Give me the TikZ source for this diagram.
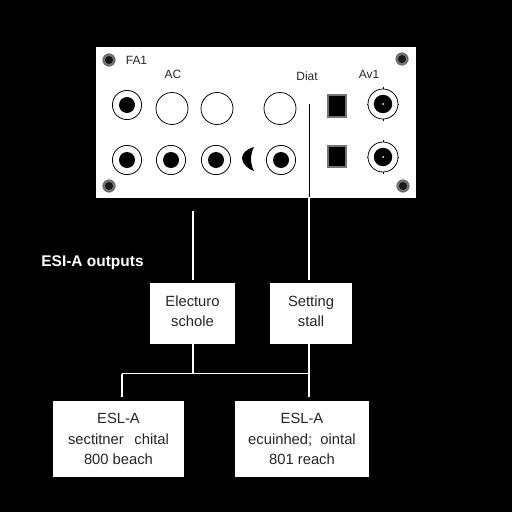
\documentclass[tikz,border=0pt]{standalone}
\usepackage{fontspec}
\setmainfont{Liberation Sans}
\tikzset{
  panel box/.style={
    rectangle, draw=none, fill=white, inner sep=0pt, minimum width=8.0cm, minimum height=3.75cm
  },
  panel label/.style={
    text=black!85, inner sep=0pt, font=\fontsize{8.5}{10}\selectfont
  },
  heading/.style={
    text=white, inner sep=0pt, font=\bfseries\fontsize{11}{13}\selectfont
  },
  jack/.style={
    circle, draw=black, line width=0.55pt, fill=white, inner sep=0pt, minimum size=7.3mm,
    path picture={
      \fill[black] (path picture bounding box.center) circle (2.0mm);
    }
  },
  open jack/.style={
    circle, draw=black, line width=0.55pt, fill=white, inner sep=0pt, minimum size=8.0mm
  },
  screw/.style={
    circle, draw=black!60, line width=0.5pt, fill=black!55, inner sep=0pt, minimum size=3.1mm,
    path picture={
      \fill[black!90] (path picture bounding box.center) circle (1.0mm);
    }
  },
  switch/.style={
    rectangle, draw=black!55, line width=1.4pt, fill=black, inner sep=0pt,
    minimum width=4.4mm, minimum height=5.3mm
  },
  bnc/.style={
    circle, draw=black, line width=0.55pt, fill=white, inner sep=0pt, minimum size=7.5mm,
    path picture={
      \fill[black] (path picture bounding box.center) circle (2.3mm);
      \fill[white] (path picture bounding box.center) circle (0.25mm);
    }
  },
  bnc tick/.style={black, line width=0.6pt},
  info box/.style={
    rectangle, draw=none, fill=white, text=black!85, inner sep=0pt, align=center,
    font=\fontsize{10.5}{14.4}\selectfont
  },
  wire/.style={draw=white, line width=0.9pt},
  panel wire/.style={draw=black, line width=0.6pt}
}

\begin{document}
\begin{tikzpicture}[x=0.025cm, y=-0.025cm]
\fill[black] (0,0) rectangle (512,512);
\useasboundingbox (0,0) rectangle (512,512);

% ------------------------------------------------
% front panel
% ------------------------------------------------
\node[panel box] (panel) at (256,122.5) {};

\node[screw] (screwTL) at (109,60) {};
\node[screw] (screwBL) at (109,186) {};
\node[screw] (screwTR) at (402,59) {};
\node[screw] (screwBR) at (403,186) {};

\node[panel label] (faLabel)   at (136.5,60) {FA1};
\node[panel label] (acLabel)   at (173,74) {AC};
\node[panel label] (dialLabel) at (307,76) {Diat};
\node[panel label] (avLabel)   at (369,74) {Av1};

\node[jack]      (jackA) at (127,105) {};
\node[open jack] (openA) at (172,108.5) {};
\node[open jack] (openB) at (217,108.5) {};
\node[open jack] (openC) at (280,108.5) {};

\node[jack] (jackB) at (127,160) {};
\node[jack] (jackC) at (171,160) {};
\node[jack] (jackD) at (216,160) {};
\node[jack] (jackE) at (281,160) {};

% half moon between the lower jacks
\fill[black] (254,147) .. controls (247,149) and (242,153) .. (242,158)
  .. controls (242,164) and (248,169) .. (254,171)
  .. controls (250,163) and (250,155) .. (254,147) -- cycle;

\node[switch] (switchA) at (337,106) {};
\node[switch] (switchB) at (337,156.5) {};

\node[bnc] (bncA) at (383,104) {};
\node[bnc] (bncB) at (383,157) {};
\draw[bnc tick] (bncA.north) -- ++(0,-2) (bncA.south) -- ++(0,2)
  (bncA.west) -- ++(-1,0) (bncA.east) -- ++(1,0);
\draw[bnc tick] (bncB.north) -- ++(0,-2) (bncB.south) -- ++(0,2)
  (bncB.west) -- ++(-1,0) (bncB.east) -- ++(1,0);

% ------------------------------------------------
% boxes under the panel
% ------------------------------------------------
\node[heading] (outLabel) at (92.5,263) {ESI-A outputs};

\node[info box, minimum width=2.125cm, minimum height=1.525cm] (electuro) at (192.5,313.5) {Electuro\\schole\\[-11.4pt]};
\node[info box, minimum width=2.05cm, minimum height=1.525cm]  (setting)  at (311,313.5) {Setting\\stall\\[-11.4pt]};

\node[info box, minimum width=3.275cm, minimum height=1.9cm] (eslLeft)  at (118.5,439) {ESL-A\\sectitner\ \ \,chital\\800 beach};
\node[info box, minimum width=3.35cm, minimum height=1.9cm]  (eslRight) at (302,439) {ESL-A\\ecuinhed;\ \ ointal\\801 reach};

% ------------------------------------------------
% connectors
% ------------------------------------------------
\coordinate (acOut)    at (193,211);
\coordinate (dialTap)  at (309,104);
\coordinate (panelOut) at (309,197);
\coordinate (busLeft)  at (122,373.5);
\coordinate (busMid)   at (193,373.5);
\coordinate (busRight) at (309,373.5);

\draw[panel wire] (dialTap) -- (panelOut);
\draw[wire, shorten >=2pt] (panelOut) -- (panelOut |- setting.north);
\draw[wire, shorten >=2pt] (acOut) -- (acOut |- electuro.north);

\draw[wire] (busMid |- electuro.south) -- (busMid);
\draw[wire] (busRight |- setting.south) -- (busRight);
\draw[wire] (busLeft) -- (busRight);
\draw[wire, shorten >=2.5pt] (busLeft) -- (busLeft |- eslLeft.north);
\draw[wire, shorten >=2.5pt] (busRight) -- (busRight |- eslRight.north);
\end{tikzpicture}
\end{document}
